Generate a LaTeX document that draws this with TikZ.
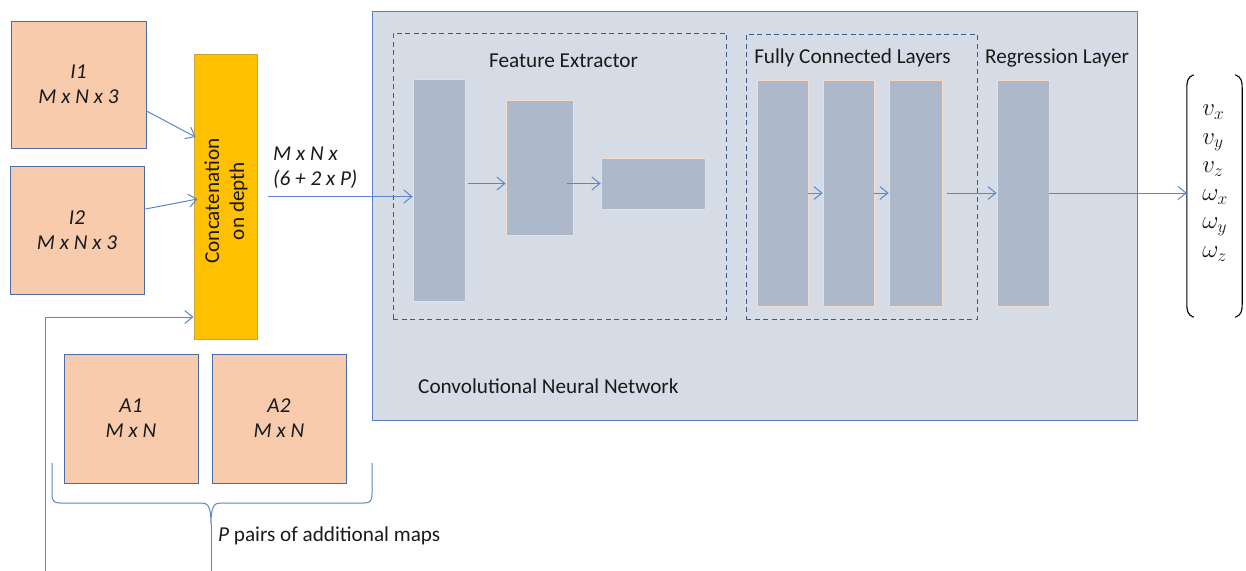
\RequirePackage{fix-cm}
\documentclass[tikz,border=0pt]{standalone}
\usepackage{fontspec}
\setmainfont{Carlito}
\usetikzlibrary{arrows.meta,calc}

\definecolor{peach}{HTML}{F8CBAD}
\definecolor{boxline}{HTML}{4A6DA8}
\definecolor{gold}{HTML}{FFC000}
\definecolor{goldline}{HTML}{C9A23A}
\definecolor{cnnfill}{HTML}{D6DCE5}
\definecolor{cnnline}{HTML}{5A7FC0}
\definecolor{layerfill}{HTML}{ADB9CA}
\definecolor{layerline}{HTML}{F4DCCB}
\definecolor{dashcol}{HTML}{3D5A8C}
\definecolor{arrowblue}{HTML}{5B86CF}
\definecolor{ink}{HTML}{1A1A1A}

\begin{document}
\begin{tikzpicture}[x=1pt,y=-1pt,
  every node/.style={font=\fontsize{21.2}{25}\selectfont, text=ink, inner sep=0pt},
  mapbox/.style={draw=boxline, fill=peach, line width=1pt, align=center, font=\fontsize{21.2}{25}\selectfont\itshape},
  concatbox/.style={draw=goldline, fill=gold, line width=1pt},
  cnnbox/.style={draw=cnnline, fill=cnnfill, line width=1pt},
  layer/.style={draw=layerline, fill=layerfill, line width=0.8pt},
  group/.style={draw=dashcol, line width=1pt, dash pattern=on 5pt off 3.5pt},
  arr/.style={draw=arrowblue, line width=1pt, -{Straight Barb[length=8pt,width=13pt,line width=1pt]}},
  brace/.style={draw=arrowblue, line width=1pt},
  paren/.style={draw=black, line width=1.1pt}]

\useasboundingbox (0,0) rectangle (1246,570);

% input images and additional maps
\node[mapbox, minimum width=135, minimum height=127] (I1) at (78.5,84.5) {I1\\M x N x 3};
\node[mapbox, minimum width=134, minimum height=128] (I2) at (77,230) {I2\\M x N x 3};
\node[mapbox, minimum width=134, minimum height=129] (A1) at (131,418.5) {A1\\M x N};
\node[mapbox, minimum width=134, minimum height=129] (A2) at (279,418.5) {A2\\M x N};

% concatenation stage
\node[concatbox, minimum width=63, minimum height=285] (cc) at (225.5,196.5) {};
\node[rotate=90, align=center] (cctext) at (226,201) {Concatenation\\on depth};

% network container
\node[cnnbox, minimum width=765, minimum height=409] (cnn) at (754.5,215.5) {};
\node[group, minimum width=333, minimum height=286] (fe) at (559.5,176) {};
\node[group, minimum width=231, minimum height=285] (fcg) at (861.5,176.5) {};

\node[anchor=base] (fetitle) at (563.5,67) {Feature Extractor};
\node[anchor=base] (fctitle) at (852.5,63) {Fully Connected Layers};
\node[anchor=base] (regtitle) at (1057,63) {Regression Layer};
\node[anchor=base west] (cnntitle) at (418,393) {Convolutional Neural Network};

% layers
\node[layer, minimum width=52, minimum height=222] (b1) at (439,190) {};
\node[layer, minimum width=67, minimum height=135] (b2) at (539.5,167.5) {};
\node[layer, minimum width=104, minimum height=51] (b3) at (653,183.5) {};
\node[layer, minimum width=51, minimum height=226] (fc1) at (782.5,193) {};
\node[layer, minimum width=51, minimum height=226] (fc2) at (848.5,193) {};
\node[layer, minimum width=53, minimum height=226] (fc3) at (915.5,193) {};
\node[layer, minimum width=52, minimum height=226] (reg) at (1023,193) {};

% output vector
\node[minimum width=55, minimum height=242] (vec) at (1214.5,196) {};
\node[align=left, font=\fontsize{25}{28.3}\selectfont] (entries) at (1215,183)
  {$v_x$\\$v_y$\\$v_z$\\$\omega_x$\\$\omega_y$\\$\omega_z$};
\draw[paren] ($(vec.north west)+(7,0)$) .. controls ($(vec.north west)+(1,2)$) and ($(vec.north west)+(0,6)$) .. ($(vec.north west)+(0,14)$)
  -- ($(vec.south west)+(0,-14)$) .. controls ($(vec.south west)+(0,-6)$) and ($(vec.south west)+(1,-2)$) .. ($(vec.south west)+(7,0)$);
\draw[paren] ($(vec.north east)+(-7,0)$) .. controls ($(vec.north east)+(-1,2)$) and ($(vec.north east)+(0,6)$) .. ($(vec.north east)+(0,14)$)
  -- ($(vec.south east)+(0,-14)$) .. controls ($(vec.south east)+(0,-6)$) and ($(vec.south east)+(-1,-2)$) .. ($(vec.south east)+(-7,0)$);

% labels
\node[anchor=west, align=left, font=\fontsize{21.2}{25}\selectfont\itshape] (shape) at (273,168) {M x N x\\(6 + 2 x P)};
\node[anchor=base west] (pairs) at (218,541) {\textit{P} pairs of additional maps};

% brace under the additional maps
\coordinate (btip) at (211,524);
\coordinate (bstem) at (211,572);
\draw[brace] (52,463) -- (52,494) .. controls (52,501) and (54,503) .. (60,503)
  -- (202,503) .. controls (208,503) and (211,507) .. (btip)
  .. controls (211,507) and (214,503) .. (220,503)
  -- (364,503) .. controls (370,503) and (372,501) .. (372,494) -- (372,463);
\draw[brace] (btip) -- (bstem);

% connectors
\coordinate (mapsfeed) at (45,572);
\draw[arr] ($(I1.east)+(0,26.5)$) -- ($(cc.west)+(2,-59.5)$);
\draw[arr] ($(I2.east)+(1,-21)$) -- ($(cc.west)+(4,2.5)$);
\draw[arr] (mapsfeed) |- ($(cc.west)+(0,120.5)$);
\draw[arr] ($(cc.east)+(10,0)$) -- (b1.west |- cc.east);
\draw[arr] ($(b1.east |- b3)+(3,0)$) -- (b2.west |- b3);
\draw[arr] ($(b2.east |- b3)+(-6,0)$) -- (b3.west);
\draw[arr] (fc1.east) -- (fc2.west);
\draw[arr] (fc2.east) -- (fc3.west);
\draw[arr] ($(fc3.east)+(5,0)$) -- (reg.west);
\draw[arr] (reg.east) -- (vec.west |- reg.east);
\end{tikzpicture}
\end{document}
